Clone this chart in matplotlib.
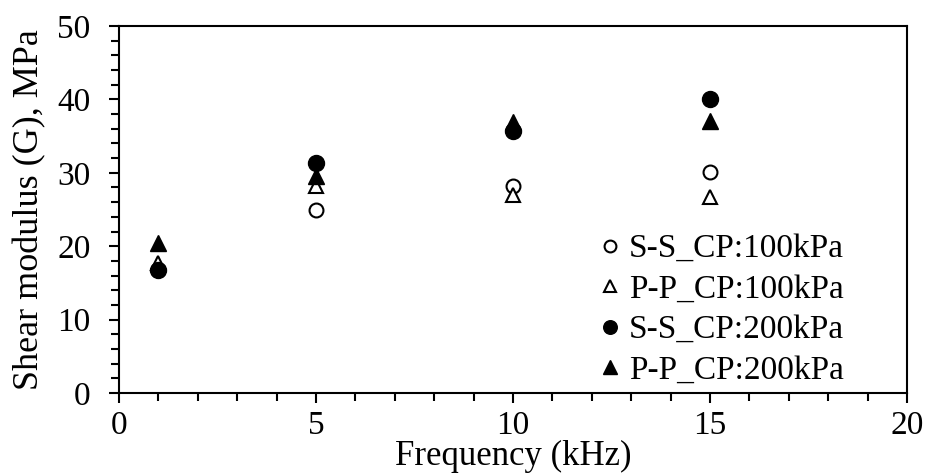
import matplotlib
matplotlib.use("Agg")
import matplotlib.pyplot as plt
from matplotlib.ticker import MultipleLocator

plt.rcParams['font.family'] = ['Liberation Serif', 'DejaVu Serif']

freq = [1, 5, 10, 15]
ss_100 = [16.8, 24.9, 28.2, 30.1]
pp_100 = [17.7, 28.2, 27.0, 26.7]
ss_200 = [16.7, 31.3, 35.7, 40.0]
pp_200 = [20.4, 29.6, 36.9, 37.1]
labels = ["S-S_CP:100kPa", "P-P_CP:100kPa", "S-S_CP:200kPa", "P-P_CP:200kPa"]

W, H = 927, 474
fig = plt.figure(figsize=(W / 100, H / 100), dpi=100)
x0, x1, y0, y1 = 119, 907, 393, 26
ax = fig.add_axes([x0 / W, 1 - y0 / H, (x1 - x0) / W, (y0 - y1) / H])

ax.plot(freq, ss_100, 'o', mfc='white', mec='black', mew=1.5, ms=10, label=labels[0], linestyle='none')
ax.plot(freq, pp_100, '^', mfc='white', mec='black', mew=1.5, ms=10.5, label=labels[1], linestyle='none')
ax.plot(freq, ss_200, 'o', mfc='black', mec='black', ms=11.5, label=labels[2], linestyle='none')
ax.plot(freq, pp_200, '^', mfc='black', mec='black', ms=11.5, label=labels[3], linestyle='none')

ax.set_xlim(0, 20)
ax.set_ylim(0, 50)
ax.xaxis.set_major_locator(MultipleLocator(5))
ax.xaxis.set_minor_locator(MultipleLocator(1))
ax.yaxis.set_major_locator(MultipleLocator(10))
ax.yaxis.set_minor_locator(MultipleLocator(2))
for s in ax.spines.values():
    s.set_linewidth(1.5)
ax.tick_params(axis='both', which='both', direction='out', width=1.5, labelsize=24,
               top=False, right=False)
ax.tick_params(axis='both', which='major', length=7.5)
ax.tick_params(axis='both', which='minor', length=5.5)
ax.tick_params(axis='x', which='major', pad=5)
ax.tick_params(axis='y', which='major', pad=13)

ax.set_xlabel("Frequency (kHz)", fontsize=25, labelpad=-1)
ax.set_ylabel("Shear modulus (G), MPa", fontsize=26, labelpad=8)

leg = ax.legend(loc='upper left', bbox_to_anchor=(0.611, 0.434), frameon=False, fontsize=24,
                markerscale=0.85, handletextpad=0.25, handlelength=0.6, labelspacing=0.3,
                borderpad=0, borderaxespad=0)

fig.savefig("out.png", dpi=100)
